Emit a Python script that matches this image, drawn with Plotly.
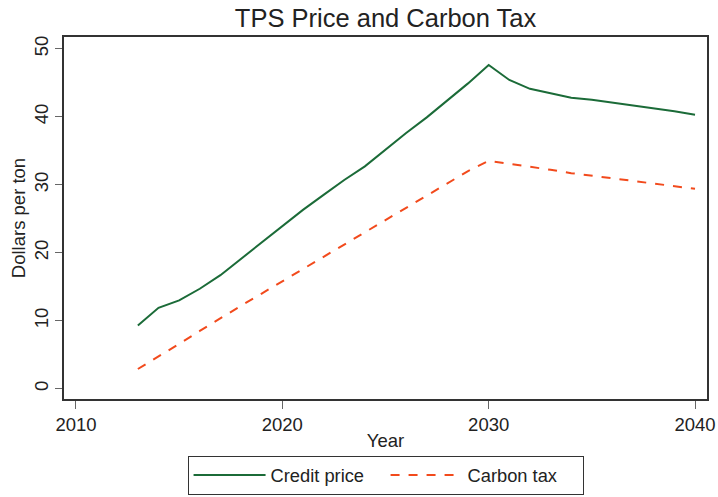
import plotly.graph_objects as go

years = list(range(2013, 2041))
credit_price = [9.3, 11.9, 13.0, 14.7, 16.7, 19.1, 21.6, 23.9, 26.3, 28.5,
                30.7, 32.7, 35.2, 37.6, 39.9, 42.4, 44.9, 47.6, 45.4, 44.1,
                43.4, 42.8, 42.5, 42.1, 41.7, 41.2, 40.8, 40.3]
carbon_tax = [2.9, 4.7, 6.6, 8.5, 10.4, 12.2, 14.0, 15.8, 17.6, 19.4,
              21.3, 23.1, 24.9, 26.7, 28.5, 30.3, 32.0, 33.5, 33.1, 32.7,
              32.2, 31.7, 31.3, 30.9, 30.5, 30.1, 29.8, 29.4]
x_ticks = [2010, 2020, 2030, 2040]
y_ticks = [0, 10, 20, 30, 40, 50]

FONT = "Liberation Sans, Arial, Helvetica, sans-serif"
TXT = "#222222"

fig = go.Figure()
fig.add_trace(go.Scatter(x=years, y=credit_price, mode="lines", name="Credit price",
                         line=dict(color="#1b6b38", width=2)))
fig.add_trace(go.Scatter(x=years, y=carbon_tax, mode="lines", name="Carbon tax",
                         line=dict(color="#f24a1c", width=2, dash="dash")))

fig.update_layout(
    width=718, height=497,
    paper_bgcolor="white", plot_bgcolor="white",
    margin=dict(l=64, r=11, t=37, b=98, autoexpand=False),
    font=dict(family=FONT, color=TXT, size=18),
    title=dict(text="TPS Price and Carbon Tax", x=0.537, xanchor="center",
               y=0.963, yanchor="middle", font=dict(size=25.5, color=TXT)),
    showlegend=True,
    legend=dict(orientation="h", xref="container", x=0.537, xanchor="center",
                yref="container", y=0.005, yanchor="bottom",
                bordercolor="#333333", borderwidth=1, bgcolor="white",
                font=dict(size=18.3), itemwidth=72, entrywidthmode="pixels",
                entrywidth=110, tracegroupgap=0),
)
fig.update_xaxes(range=[2009.42, 2040.58], tickvals=x_ticks, ticks="outside",
                 ticklen=8, tickcolor="#666666", showgrid=False, zeroline=False,
                 showline=True, linecolor="#333333", linewidth=1.5, mirror=True,
                 title=dict(text="Year", standoff=0, font=dict(size=18.5)),
                 tickfont=dict(size=18.5))
fig.update_yaxes(range=[-1.51, 51.72], tickvals=y_ticks, ticks="outside",
                 ticklen=7, tickcolor="#666666", tickangle=-90, showgrid=False,
                 zeroline=False, showline=True, linecolor="#333333", linewidth=1.5,
                 mirror=True, title=dict(text="Dollars per ton", standoff=0,
                                         font=dict(size=18.5)),
                 tickfont=dict(size=18.5))

fig.write_html("out.html", config={"displayModeBar": False},
               post_script="document.body.style.margin='0px';")
